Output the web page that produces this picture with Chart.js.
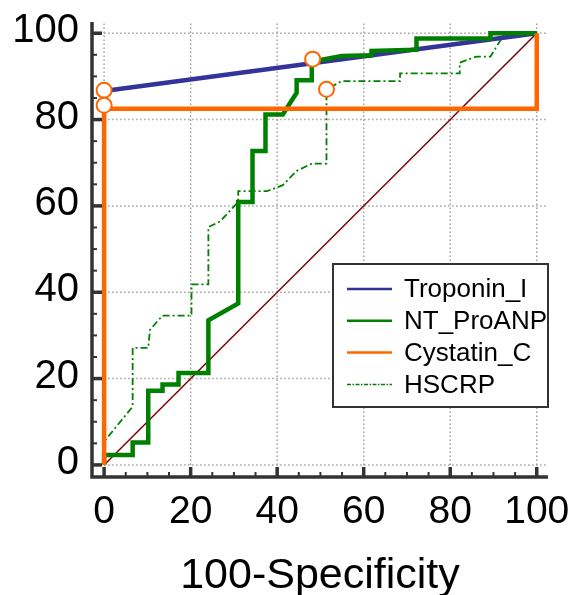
<!DOCTYPE html>
<html>
<head>
<meta charset="utf-8">
<script src="https://cdn.jsdelivr.net/npm/chart.js@4.4.0/dist/chart.umd.min.js"></script>
<style>
  body { margin: 0; background: #fff; }
  #wrap { width: 573px; height: 595px; }
</style>
</head>
<body>
<div id="wrap"><canvas id="rocChart"></canvas></div>
<script>
// axis ticks
const tickValues = [0, 20, 40, 60, 80, 100];
const minorTickValues = [5, 10, 15, 25, 30, 35, 45, 50, 55, 65, 70, 75, 85, 90, 95];

// series (x = 100-Specificity, y = Sensitivity)
const troponinX = [0, 100];
const troponinY = [86.6, 100];

const ntProAnpX = [0, 0, 6.6, 6.6, 10.2, 10.2, 13.5, 13.5, 17.2, 17.2, 24.1, 24.1, 31.0, 31.0, 34.3, 34.3, 37.3, 37.3, 41.3, 44.5, 44.5, 48.0, 48.0, 54.9, 61.8, 61.8, 72.2, 72.2, 89.3, 89.3, 100];
const ntProAnpY = [0, 2.3, 2.3, 5.2, 5.2, 17.2, 17.2, 18.6, 18.6, 21.3, 21.3, 33.5, 37.4, 60.9, 60.9, 72.7, 72.7, 81.2, 81.2, 86.2, 89.1, 89.1, 93.4, 94.7, 94.9, 95.9, 96.2, 98.8, 98.8, 100, 100];

const cystatinX = [0, 0, 100, 100];
const cystatinY = [0, 82.5, 82.5, 100];

const hscrpX = [0, 0, 6.6, 6.6, 10.2, 10.6, 13.5, 20.2, 20.2, 24.1, 24.1, 26.8, 31.0, 31.0, 37.6, 41.3, 44.5, 48.0, 51.4, 51.4, 54.9, 68.4, 68.4, 82.2, 82.2, 86.1, 89.3, 92.6, 100];
const hscrpY = [0, 5.4, 13.5, 27.1, 27.1, 31.3, 34.6, 34.6, 41.8, 41.8, 55.1, 56.4, 60.9, 63.4, 63.4, 64.8, 68.1, 69.8, 69.8, 87.0, 88.9, 88.9, 90.7, 90.7, 93.2, 94.6, 94.6, 100, 100];

// optimal criterion markers
const markerX = [0, 0, 48.2, 51.4];
const markerY = [86.8, 83.3, 94.0, 87.0];

const diagonalX = [0, 100];
const diagonalY = [0, 100];

const seriesNames = ['Troponin_I', 'NT_ProANP', 'Cystatin_C', 'HSCRP'];
const seriesColors = ['#333399', '#008000', '#ff6600', '#008000'];

const FONT = "'Liberation Sans', Arial, sans-serif";

function toPoints(xs, ys) {
    return xs.map((x, i) => ({ x: x, y: ys[i] }));
}

// dotted grid, inward ticks and spines
const axesPlugin = {
    id: 'axesPlugin',
    beforeDatasetsDraw(chart) {
        const ctx = chart.ctx;
        const xs = chart.scales.x, ys = chart.scales.y;
        const area = chart.chartArea;
        ctx.save();
        ctx.strokeStyle = '#a0a0a0';
        ctx.lineWidth = 1.5;
        ctx.setLineDash([1.5, 2.5]);
        tickValues.forEach(v => {
            const px = xs.getPixelForValue(v);
            ctx.beginPath();
            ctx.moveTo(px, ys.getPixelForValue(0));
            ctx.lineTo(px, area.top);
            ctx.stroke();
            const py = ys.getPixelForValue(v);
            ctx.beginPath();
            ctx.moveTo(xs.getPixelForValue(0), py);
            ctx.lineTo(area.right, py);
            ctx.stroke();
        });
        ctx.restore();
    },
    afterDraw(chart) {
        const ctx = chart.ctx;
        const xs = chart.scales.x, ys = chart.scales.y;
        const area = chart.chartArea;
        ctx.save();
        ctx.strokeStyle = '#333';
        ctx.lineCap = 'butt';
        // spines
        ctx.lineWidth = 3.5;
        ctx.beginPath();
        ctx.moveTo(area.left, area.top);
        ctx.lineTo(area.left, area.bottom);
        ctx.lineTo(area.right, area.bottom);
        ctx.stroke();
        // major ticks
        tickValues.forEach(v => {
            const px = xs.getPixelForValue(v);
            ctx.beginPath();
            ctx.moveTo(px, area.bottom);
            ctx.lineTo(px, area.bottom - 10);
            ctx.stroke();
            const py = ys.getPixelForValue(v);
            ctx.beginPath();
            ctx.moveTo(area.left, py);
            ctx.lineTo(area.left + 10, py);
            ctx.stroke();
        });
        // minor ticks
        ctx.lineWidth = 2;
        minorTickValues.forEach(v => {
            const px = xs.getPixelForValue(v);
            ctx.beginPath();
            ctx.moveTo(px, area.bottom);
            ctx.lineTo(px, area.bottom - 5);
            ctx.stroke();
            const py = ys.getPixelForValue(v);
            ctx.beginPath();
            ctx.moveTo(area.left, py);
            ctx.lineTo(area.left + 5, py);
            ctx.stroke();
        });
        ctx.restore();
    }
};

// boxed legend inside the plot
const legendPlugin = {
    id: 'legendPlugin',
    afterDatasetsDraw(chart) {
        const ctx = chart.ctx;
        const area = chart.chartArea;
        const boxW = 215, boxH = 143;
        const bx = area.right - boxW, by = 264;
        ctx.save();
        ctx.fillStyle = '#fff';
        ctx.fillRect(bx, by, boxW, boxH);
        ctx.strokeStyle = '#333';
        ctx.lineWidth = 2;
        ctx.setLineDash([]);
        ctx.strokeRect(bx, by, boxW, boxH);
        ctx.font = '26px ' + FONT;
        ctx.textBaseline = 'middle';
        ctx.fillStyle = '#000';
        seriesNames.forEach((name, i) => {
            const y = by + 25 + i * 31.8;
            ctx.strokeStyle = seriesColors[i];
            ctx.lineWidth = i === 3 ? 1.5 : 2.5;
            ctx.setLineDash(i === 3 ? [4, 1.5, 1.5, 1.5] : []);
            ctx.beginPath();
            ctx.moveTo(bx + 14, y);
            ctx.lineTo(bx + 59, y);
            ctx.stroke();
            ctx.fillText(name, bx + 71, y + 1);
        });
        ctx.restore();
    }
};

const ctx = document.getElementById('rocChart').getContext('2d');
new Chart(ctx, {
    type: 'line',
    data: {
        datasets: [
            {
                label: 'criterion',
                data: toPoints(markerX, markerY),
                showLine: false,
                pointRadius: 7.5,
                pointBorderWidth: 2,
                pointBorderColor: '#ff6600',
                pointBackgroundColor: '#fff',
                order: 0
            },
            {
                label: 'Troponin_I',
                data: toPoints(troponinX, troponinY),
                borderColor: seriesColors[0],
                borderWidth: 4.5,
                pointRadius: 0,
                order: 3
            },
            {
                label: 'NT_ProANP',
                data: toPoints(ntProAnpX, ntProAnpY),
                borderColor: seriesColors[1],
                borderWidth: 4.5,
                pointRadius: 0,
                order: 2
            },
            {
                label: 'Cystatin_C',
                data: toPoints(cystatinX, cystatinY),
                borderColor: seriesColors[2],
                borderWidth: 4.5,
                pointRadius: 0,
                order: 1
            },
            {
                label: 'HSCRP',
                data: toPoints(hscrpX, hscrpY),
                borderColor: seriesColors[3],
                borderWidth: 1.8,
                borderDash: [7, 3, 2, 3],
                pointRadius: 0,
                order: 4
            },
            {
                label: 'reference',
                data: toPoints(diagonalX, diagonalY),
                borderColor: '#800000',
                borderWidth: 1.5,
                pointRadius: 0,
                order: 5
            }
        ]
    },
    options: {
        responsive: true,
        maintainAspectRatio: false,
        animation: false,
        layout: { padding: { left: 0, right: 25, top: 22, bottom: 0 } },
        plugins: {
            legend: { display: false },
            tooltip: { enabled: false }
        },
        scales: {
            x: {
                type: 'linear',
                min: -2.8,
                max: 102.6,
                afterBuildTicks: axis => { axis.ticks = tickValues.map(v => ({ value: v })); },
                afterFit: axis => {
                    axis.paddingLeft = 0;
                    axis.paddingRight = 0;
                    axis.height = 118;
                },
                grid: { display: false, drawTicks: false },
                border: { display: false },
                ticks: {
                    color: '#000',
                    padding: 12,
                    maxRotation: 0,
                    autoSkip: false,
                    font: { family: FONT, size: 39, lineHeight: 1.2 }
                },
                title: {
                    display: true,
                    text: '100-Specificity',
                    color: '#000',
                    font: { family: FONT, size: 43, lineHeight: 1.0 },
                    padding: { top: 0, bottom: -2.5 }
                }
            },
            y: {
                type: 'linear',
                min: -2.8,
                max: 102.6,
                afterBuildTicks: axis => { axis.ticks = tickValues.map(v => ({ value: v })); },
                afterFit: axis => {
                    axis.paddingTop = 0;
                    axis.paddingBottom = 0;
                    axis.width = 92;
                },
                grid: { display: false, drawTicks: false },
                border: { display: false },
                ticks: {
                    color: '#000',
                    padding: 13,
                    labelOffset: -2,
                    autoSkip: false,
                    font: { family: FONT, size: 40, lineHeight: 0.8 }
                }
            }
        }
    },
    plugins: [axesPlugin, legendPlugin]
});
</script>
</body>
</html>
